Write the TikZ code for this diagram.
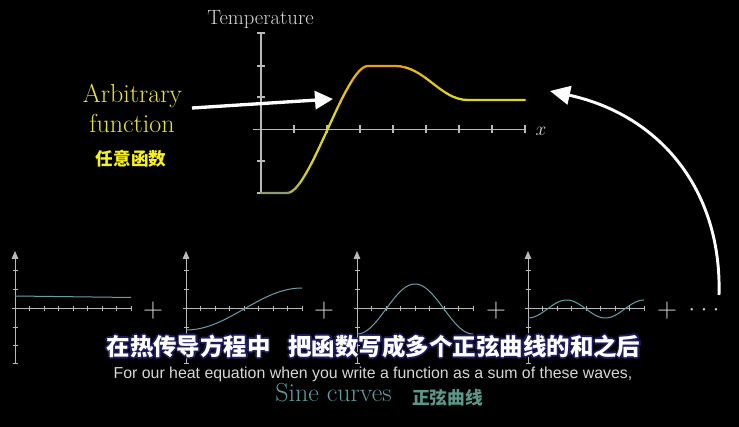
\documentclass[tikz,border=0pt]{standalone}
\usepackage{fontspec}
\newfontfamily\cjk{Noto Sans CJK SC}
\newfontfamily\subsans{Liberation Sans}
\usetikzlibrary{arrows.meta}
\definecolor{axisc}{RGB}{185,185,185}
\definecolor{ylw}{RGB}{232,226,60}
\definecolor{ylwcjk}{RGB}{245,240,30}
\definecolor{wavec}{RGB}{105,160,168}
\definecolor{sinec}{RGB}{95,155,160}
\definecolor{sinecjk}{RGB}{92,150,135}
\definecolor{navyo}{RGB}{28,28,92}
\definecolor{cgrn}{RGB}{140,155,115}
\definecolor{cyel}{RGB}{222,214,30}
\definecolor{corg}{RGB}{236,160,16}
\definecolor{lgray}{RGB}{215,215,215}
\begin{document}
\begin{tikzpicture}[x=0.75pt,y=-0.75pt,
  mainaxis/.style={draw=axisc, line width=0.9pt},
  smallaxis/.style={draw=axisc, line width=0.6pt},
  wave/.style={draw=wavec, line width=0.75pt},
  bigarrow/.style={draw=white, line width=2.5pt, -{Triangle[length=13.5pt,width=13.5pt]}},
  curvedarrow/.style={draw=white, line width=2.2pt, -{Triangle[length=15pt,width=14pt]}},
  plusnode/.style={text=lgray, inner sep=0pt, font=\fontsize{20}{24}\selectfont},
  subcn/.style={inner sep=0pt, font=\cjk\bfseries\fontsize{17.6}{20}\selectfont},
  lbl/.style={inner sep=0pt, text=lgray, font=\fontsize{15.5}{18}\selectfont}]
\useasboundingbox (0,0) rectangle (739,427);
\fill[black] (0,0) rectangle (739,427);

% ---- main graph axes ----
\draw[mainaxis] (261,33) -- (261,193);
\draw[mainaxis] (253,129.5) -- (525,129.5);
\foreach \yy in {33,66,97,161,193} \draw[mainaxis] (257,\yy) -- (265,\yy);
\foreach \xx in {294,327,360,393,426,459,492,525} \draw[mainaxis] (\xx,125.5) -- (\xx,133.5);
\node[lbl, anchor=base] (temp) at (260.5,25) {Temperature};
\node[lbl] (xlab) at (541,131) {$x$};

% ---- main curve with colour gradient ----
\foreach \a/\b/\c in {250/290/cgrn, 290/300/cgrn!50!cyel, 300/312/cgrn!15!cyel, 312/338/cyel, 338/352/cyel!60!corg, 352/362/cyel!30!corg, 362/405/corg, 405/425/corg!50!cyel, 425/445/corg!25!cyel, 445/530/cyel}{
  \begin{scope}
    \clip (\a,20) rectangle (\b,200);
    \draw[line width=1.7pt, color=\c, line cap=round]
      (261,193) -- (287,193) .. controls (310,193) and (345,66) .. (368,66)
      -- (395,66) .. controls (425,66) and (440,100) .. (468,100) -- (525,100);
  \end{scope}
}

% ---- labels ----
\node[inner sep=0pt, anchor=base, text=ylw, font=\fontsize{19.5}{23}\selectfont] (arb1) at (132.5,103) {Arbitrary};
\node[inner sep=0pt, anchor=base, text=ylw, font=\fontsize{19.5}{23}\selectfont] (arb2) at (132,133) {function};
\node[inner sep=0pt, text=ylwcjk, font=\cjk\bfseries\fontsize{13.2}{16}\selectfont] (arbcn) at (131,159) {任意函数};

\coordinate (a0) at (192,108);
\coordinate (a1) at (333,99);
\draw[bigarrow] (a0) -- (a1);

\coordinate (c0) at (719,295);
\coordinate (c1) at (550,91);
\draw[curvedarrow] (c0) .. controls (722,190) and (660,115) .. (c1);

% ---- small graphs ----
\foreach \ox in {15,186,357,528}{
  \draw[smallaxis] (\ox-3,308.5) -- (\ox+116,308.5);
  \draw[smallaxis, -{Triangle[length=6pt,width=5pt]}] (\ox,363) -- (\ox,251);
  \foreach \k in {1,...,8} \draw[smallaxis] (\ox+14.5*\k,306) -- (\ox+14.5*\k,311);
  \foreach \yy in {270.5,289,327,345.5,363} \draw[smallaxis] (\ox-2.5,\yy) -- (\ox+2.5,\yy);
}
\draw[wave] (15,296) -- (131,297.5);
\draw[wave] plot[domain=0:1, samples=60] ({186+116*\x},{309+21*cos(180*\x)});
\draw[wave] plot[domain=0:1, samples=80] ({357+116*\x},{309+25*cos(360*\x)});
\draw[wave] plot[domain=0:1, samples=100] ({528+116*\x},{309+9*cos(540*\x)});

\node[plusnode] (p1) at (153,310.5) {$+$};
\node[plusnode] (p2) at (324,311) {$+$};
\node[plusnode] (p3) at (496,311) {$+$};
\node[plusnode] (p4) at (667,311) {$+$};
\node[inner sep=0pt, text=lgray, font=\fontsize{17}{20}\selectfont] (dots) at (704,310) {$\cdot$\hspace{4.3pt}$\cdot$\hspace{4.3pt}$\cdot$};

% ---- subtitles ----
\foreach \d in {0,45,...,315}{
  \node[subcn, text=navyo] (subo\d) at ([shift={(\d:1.6)}]373.5,346.5) {在热传导方程中\hspace{0.75em}把函数写成多个正弦曲线的和之后};
}
\node[subcn, text=white] (subcn) at (373.5,346.5) {在热传导方程中\hspace{0.75em}把函数写成多个正弦曲线的和之后};
\node[inner sep=0pt, anchor=base, text=lgray, font=\subsans\fontsize{11.9}{14}\selectfont] (suben) at (373,378.5) {For our heat equation when you write a function as a sum of these waves,};
\node[inner sep=0pt, anchor=base, text=sinec, font=\fontsize{19.5}{23}\selectfont] (sine) at (333.5,402) {Sine curves};
\node[inner sep=0pt, text=sinecjk, font=\cjk\bfseries\fontsize{13.3}{16}\selectfont] (sinecn) at (447.5,398) {正弦曲线};
\end{tikzpicture}
\end{document}
